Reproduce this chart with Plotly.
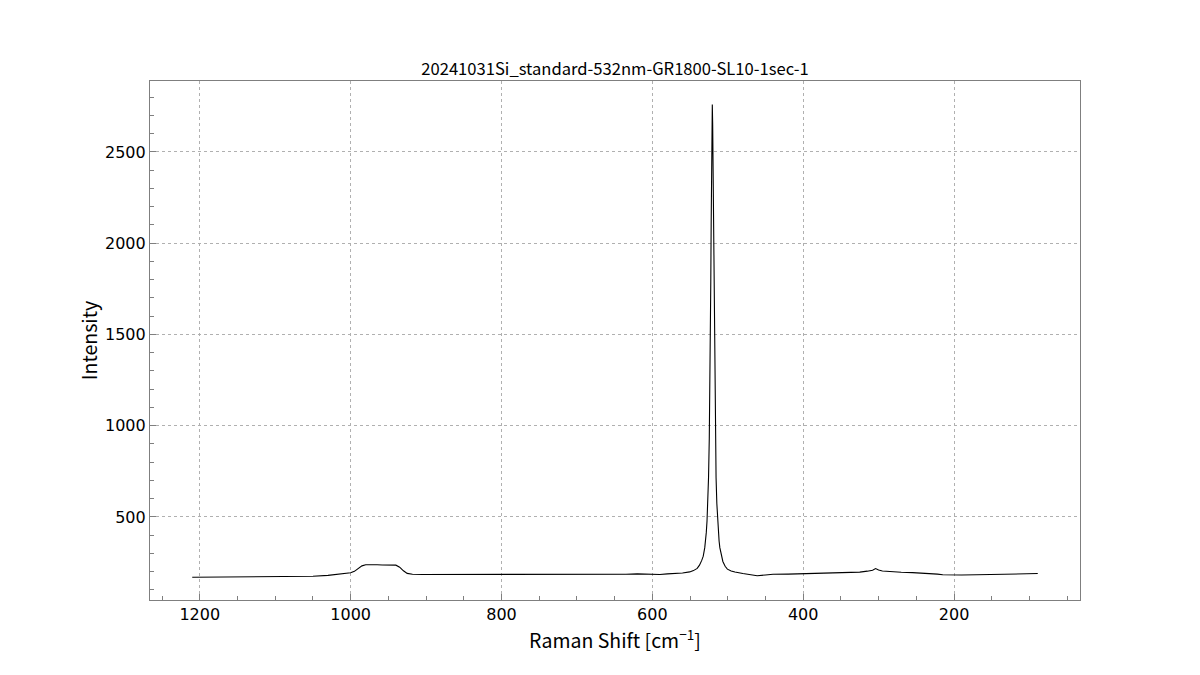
import plotly.graph_objects as go

# Raman shift (cm^-1) and intensity
raman_shift = [
    1210, 1150, 1100, 1050, 1030, 1015, 1005, 1000, 995, 990, 985, 980, 972,
    965, 958, 950, 944, 940, 935, 930, 925, 918, 905, 880, 850, 820, 800, 770,
    740, 710, 690, 680, 665, 650, 635, 620, 610, 600, 590, 580, 570, 560,
    550.5, 545.5, 540.5, 537.5, 534.5, 532.5, 530.5, 529.5, 528.5, 527.5,
    526.5, 525.5, 524.5, 524.0, 523.5, 523.0, 522.5, 522.0, 521.5, 521.0,
    520.5, 520.0, 519.5, 519.0, 518.5, 518.0, 517.5, 517.0, 516.5, 515.5,
    514.5, 513.5, 512.5, 511.5, 510.5, 508.5, 506.5, 503.5, 500.5, 495.5,
    490.5, 480, 470, 461, 450, 440, 420, 400, 380, 360, 340, 325, 315,
    308, 304, 300, 295, 285, 270, 255, 240, 230, 222, 215, 205, 190, 170, 150,
    130, 110, 95, 89,
]
intensity = [
    170, 171, 172, 175, 180, 186, 190, 194, 202, 215, 232, 238, 240,
    238, 237, 238, 238, 236, 225, 205, 191, 186, 185, 185, 184, 185, 184, 183,
    182, 183, 185, 186, 185, 185, 186, 188, 186, 184, 185, 188, 190, 193,
    199, 206, 218, 236, 262, 285, 332, 368, 414, 478,
    575, 715, 930, 1080, 1270, 1500, 1790, 2100, 2410, 2650,
    2760, 2650, 2410, 2100, 1790, 1500, 1270, 1080, 930, 715,
    575, 478, 414, 368, 332, 285, 256, 230, 214, 204,
    198, 190, 184, 178, 182, 186, 187, 189, 190, 191, 194, 198, 203,
    208, 217, 209, 204, 200, 197, 195, 193, 191, 187, 183, 182, 182, 183, 184,
    185, 187, 189, 190,
]

x_ticks = [1200, 1000, 800, 600, 400, 200]
y_ticks = [500, 1000, 1500, 2000, 2500]

title_text = "20241031Si_standard-532nm-GR1800-SL10-1sec-1"
x_label = "Raman Shift [cm<sup>\u22121</sup>]"
y_label = "Intensity"

fig = go.Figure()
fig.add_trace(go.Scatter(
    x=raman_shift, y=intensity, mode="lines",
    line=dict(color="black", width=1.1),
    showlegend=False, hoverinfo="skip",
))

axis_common = dict(
    showline=True, linecolor="#7f7f7f", linewidth=1.2, mirror=True,
    showgrid=True, gridcolor="#b0b0b0", griddash="dot", gridwidth=0.8,
    zeroline=False, ticks="inside", ticklen=6, tickwidth=1, tickcolor="#7f7f7f",
    tickfont=dict(family="DejaVu Sans", size=16, color="black"),
)

fig.update_layout(
    width=1200, height=675,
    paper_bgcolor="white", plot_bgcolor="white",
    margin=dict(l=142, r=128, t=73, b=83),
    title=dict(text=title_text, x=(615 - 8) / 1200, xanchor="center",
               y=1 - 61 / 675, yanchor="middle",
               font=dict(family="Noto Sans CJK JP", size=16.6, color="black")),
    xaxis=dict(
        range=[1266, 33], tickvals=x_ticks,
        title=dict(text=x_label, standoff=0,
                   font=dict(family="Noto Sans CJK JP", size=19.5, color="black")),
        minor=dict(dtick=50, tick0=0, ticks="inside", ticklen=3.5,
                   tickcolor="#7f7f7f", showgrid=False),
        **axis_common,
    ),
    yaxis=dict(
        range=[45, 2889], tickvals=y_ticks,
        title=dict(text=y_label, standoff=2,
                   font=dict(family="Noto Sans CJK JP", size=19.5, color="black")),
        minor=dict(dtick=100, tick0=0, ticks="inside", ticklen=3.5,
                   tickcolor="#7f7f7f", showgrid=False),
        **axis_common,
    ),
)

fig.write_html("out.html")
